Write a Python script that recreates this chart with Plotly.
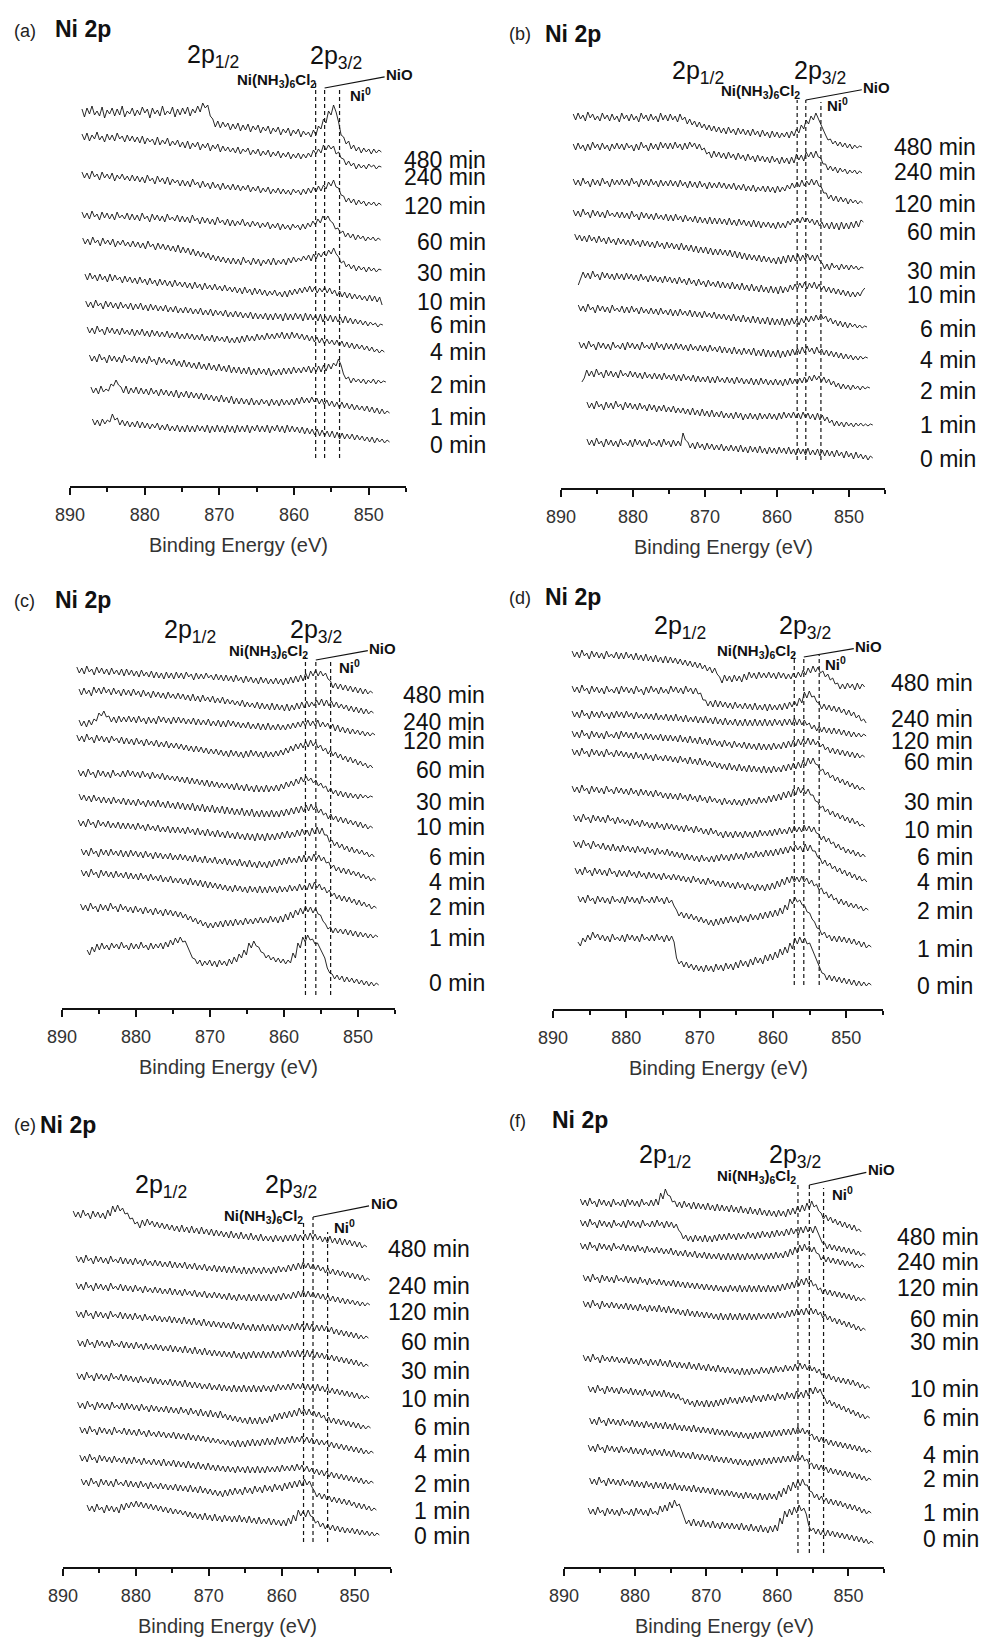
import numpy as np
import plotly.graph_objects as go

# ---------------------------------------------------------------------------
# Ni 2p XPS spectra, stacked by exposure time, six samples (a)-(f)
# Intensities are relative counts (arb. units) above each trace's stack offset
# ---------------------------------------------------------------------------
TIMES = ["480 min", "240 min", "120 min", "60 min", "30 min", "10 min",
         "6 min", "4 min", "2 min", "1 min", "0 min"]

# ----- (a) -----
a_start = [888.4, 888.4, 888.4, 888.4, 888.3, 888.0, 887.9, 887.7, 887.4, 887.2, 887.0]
a_end = [848.3, 848.3, 848.3, 848.4, 848.3, 848.2, 848.1, 847.9, 847.7, 847.2, 847.2]
a_offset = [334, 319, 281, 246, 216, 179, 161, 134, 104, 73, 44]
a_refs = [857.1, 855.9, 853.9]
a_spectra = [
    [43,35,44,38,46,37,41,36,45,34,42,38,44,36,43,37,46,35,41,38, 44,36,42,37,45,39,43,34,44,38,42,36,46,37,41,38,45,35,43,37,
     44,38,45,36,43,39,46,40,49,44,47,36,33,25,31,24,30,25,29,22, 28,23,29,21,27,22,28,20,26,22,27,19,25,21,26,18,24,20,25,17,
     23,19,24,16,22,18,23,15,21,17,20,15,22,17,26,23,33,29,41,37, 47,40,30,17,15,8,11,3,7,1,5,-1,4,0,3,-2,3,-1,2,0],
    [33,27,34,26,32,28,35,27,31,25,33,27,32,26,34,28,31,25,32,26, 31,25,30,24,31,23,29,25,28,22,30,22,27,23,29,21,26,22,27,20,
     25,19,26,18,24,20,25,17,23,19,24,16,22,18,23,15,21,16,20,15, 19,14,20,13,18,15,19,12,17,13,18,11,16,12,17,10,15,11,16,9,
     14,10,15,8,13,9,14,8,13,9,14,10,17,13,18,14,22,17,22,18, 21,13,15,9,8,2,6,1,4,-2,3,-1,2,-2,3,0,2,-2,1,0],
    [33,27,32,26,34,28,31,25,33,27,31,26,32,24,30,26,31,25,29,24, 30,24,29,23,28,22,30,24,27,21,29,23,27,21,28,20,26,22,25,19,
     25,19,24,18,26,20,23,17,24,18,22,16,23,17,21,15,22,16,20,15, 21,15,20,14,19,15,20,13,18,14,19,12,17,13,18,11,16,12,17,11,
     16,11,15,10,16,12,15,10,16,11,17,12,18,13,19,14,20,16,23,19, 25,18,17,10,9,3,7,2,6,0,5,1,4,-1,3,0,3,-1,2,0],
    [28,22,27,21,29,23,26,20,28,22,27,21,26,20,28,22,25,21,27,20, 26,20,25,19,27,21,24,18,26,20,25,19,24,18,26,20,23,19,25,18,
     24,18,23,17,25,19,22,16,23,17,22,16,21,15,23,17,20,15,21,14, 20,14,19,15,21,14,18,13,19,14,18,12,17,13,18,11,16,12,17,10,
     16,11,15,10,16,12,15,10,16,11,17,13,19,15,21,17,24,20,24,19, 17,11,12,7,9,3,7,2,6,0,5,1,4,-1,3,0,3,-1,2,0],
    [32,26,31,25,33,27,30,24,32,26,30,25,31,23,29,25,30,24,28,23, 29,23,28,22,27,21,29,23,26,20,27,21,26,20,25,19,24,18,25,17,
     23,17,22,15,21,14,19,13,18,12,17,10,15,9,14,8,13,7,12,6, 12,6,11,5,13,7,10,5,12,6,11,4,10,6,11,5,12,5,10,6,
     11,5,12,7,13,8,12,9,14,10,15,9,16,11,17,13,18,14,20,16, 22,16,13,7,9,3,6,1,5,-1,4,0,3,-2,3,-1,2,-2,1,0],
    [33,27,34,28,32,26,33,27,31,25,33,26,32,27,30,24,31,25,30,24, 29,23,30,24,28,22,29,23,27,21,28,22,27,21,26,20,27,21,25,20,
     25,19,24,18,25,19,23,17,24,18,22,17,23,17,21,16,22,16,20,15, 20,14,19,13,20,14,18,12,19,13,18,12,17,11,16,12,17,11,15,10,
     16,10,17,12,18,13,19,14,20,15,21,15,20,14,19,15,20,14,19,13, 17,11,16,10,15,9,14,8,13,8,12,7,11,6,12,6,11,5,10,2],
    [24,18,23,17,25,19,22,16,24,18,23,17,22,16,23,17,21,16,22,15, 21,16,22,15,20,14,21,15,20,14,19,14,20,13,18,13,19,12,17,12,
     18,12,17,11,16,11,17,10,15,10,16,9,15,10,14,9,15,8,13,8, 14,8,13,7,12,7,13,6,12,6,11,6,12,5,11,5,12,6,11,4,
     12,5,11,5,12,6,11,4,12,5,11,5,10,4,11,3,9,4,10,3, 9,3,8,2,9,2,7,1,6,1,5,0,4,-1,3,0,2,-2,1,0],
    [25,19,24,18,26,20,23,17,25,19,24,18,23,17,24,18,22,17,23,16, 22,17,23,16,21,15,22,16,21,15,20,15,21,14,19,14,20,13,18,13,
     19,13,18,12,17,12,18,11,16,11,17,10,16,11,15,10,16,9,14,9, 15,9,16,10,17,11,16,11,18,12,17,12,19,13,18,13,19,14,20,13,
     19,13,20,14,19,13,18,12,17,11,16,10,15,9,14,8,13,8,12,7, 12,6,11,5,10,4,9,3,8,3,7,2,6,1,5,0,3,-1,2,0],
    [27,21,26,20,28,22,25,19,27,21,26,20,25,19,27,21,24,20,26,19, 25,19,24,18,26,20,23,17,25,19,24,18,22,17,23,16,21,15,22,15,
     20,14,19,13,20,13,18,12,19,12,17,11,18,11,16,10,17,9,15,9, 15,8,14,8,15,7,13,7,14,8,13,7,14,6,12,7,13,7,14,8,
     14,8,15,9,14,9,15,10,16,9,15,10,16,10,17,11,18,13,19,16, 23,17,8,3,5,-1,4,0,3,-1,3,-2,2,-1,3,-2,2,-1,1,0],
    [26,20,25,19,27,21,24,22,29,27,33,28,26,20,27,19,25,20,26,19, 25,19,24,18,25,19,23,17,24,18,23,17,22,16,23,15,21,16,22,15,
     21,15,20,14,20,13,19,13,18,12,17,11,18,11,16,10,17,9,15,9, 15,9,14,8,15,8,13,8,14,9,13,7,14,8,13,7,14,8,13,8,
     14,8,15,9,16,10,15,10,16,11,15,9,14,8,13,7,12,6,11,5, 11,5,10,4,9,3,8,3,7,2,7,1,6,0,5,-1,4,-1,2,0],
    [23,17,22,16,23,18,22,20,28,22,24,17,22,16,21,15,20,15,21,14, 20,14,19,13,18,14,19,12,17,12,18,11,16,11,17,10,16,10,17,10,
     16,10,17,11,16,10,17,9,16,10,17,10,16,9,17,10,16,9,17,10, 16,10,17,9,16,11,17,10,16,10,17,9,16,11,17,10,16,9,17,10,
     16,10,15,9,15,8,14,8,13,7,13,6,12,6,11,5,11,4,10,3, 9,3,8,3,8,2,7,2,6,1,5,0,5,-1,4,0,3,-1,2,0],
]

# ----- (b) -----
b_start = [888.3, 888.3, 888.3, 888.3, 888.1, 887.6, 887.6, 887.5, 887.1, 886.4, 886.4]
b_end = [848.2, 848.2, 848.1, 848.0, 848.0, 847.8, 847.5, 847.4, 847.1, 846.7, 846.7]
b_offset = [341, 315, 285, 263, 220, 193, 161, 130, 100, 63, 30]
b_refs = [857.2, 856.0, 853.9]
b_spectra = [
    [33,27,34,28,32,26,35,29,33,27,31,26,34,28,32,26,33,27,31,25, 34,28,32,26,33,27,31,25,34,28,32,26,33,27,31,25,34,27,32,26,
     33,27,31,25,33,27,30,23,28,22,26,20,25,19,23,17,22,16,21,15, 20,14,19,13,20,14,18,12,19,13,18,12,17,11,18,12,16,10,17,11,
     15,9,16,10,15,9,14,10,15,9,16,11,18,14,22,18,27,23,31,27, 34,28,23,17,12,7,8,3,6,1,5,0,4,-1,3,-2,2,-1,1,0],
    [29,23,30,24,28,22,29,23,31,25,29,23,30,24,28,22,29,24,30,24, 29,23,30,25,28,22,29,23,31,25,28,22,30,24,29,23,31,25,30,24,
     30,24,31,25,29,23,30,24,31,26,30,24,29,23,25,19,21,15,22,16, 21,15,20,14,21,15,19,13,20,14,18,12,19,13,17,11,18,12,17,11,
     16,10,17,11,15,9,16,10,15,9,16,10,19,13,18,12,21,16,21,15, 22,16,15,9,9,3,7,2,6,0,5,1,4,-1,3,0,3,-1,2,0],
    [24,18,23,17,25,19,22,16,24,18,23,17,25,19,22,16,24,18,23,18, 24,18,23,17,25,19,22,16,24,18,23,17,24,18,22,16,23,17,22,17,
     23,17,22,16,23,17,21,15,22,16,21,15,22,16,20,14,21,15,20,15, 21,15,20,14,19,14,20,13,18,13,19,12,17,12,18,11,16,12,17,11,
     17,11,16,10,17,11,16,12,18,14,20,15,21,16,23,17,22,18,24,18, 23,17,16,10,10,4,8,2,7,1,6,1,5,-1,4,0,3,-1,2,0],
    [15,9,14,8,16,10,13,7,15,9,14,8,13,7,15,9,12,8,13,7, 13,7,12,6,14,8,11,5,13,7,12,6,11,5,12,6,10,5,11,4,
     10,4,11,5,9,3,10,4,8,3,9,2,8,2,7,1,8,1,7,1, 7,1,6,0,7,0,5,-1,6,0,5,-1,4,-2,5,-2,4,-3,3,-2,
     3,-3,2,-4,3,-3,2,-3,4,0,6,2,7,2,8,3,7,2,6,0, 5,-1,3,-3,2,-4,3,-4,2,-5,3,-4,2,-4,3,-3,4,-2,5,3],
    [34,28,33,27,32,26,33,27,31,25,32,26,30,24,31,25,29,23,30,24, 29,23,28,22,29,23,27,21,28,22,27,21,26,20,27,21,25,19,26,20,
     25,19,24,18,25,18,23,17,23,16,22,15,21,15,21,14,20,13,19,13, 19,13,18,12,18,11,17,10,16,9,15,8,14,8,13,7,13,6,12,6,
     11,5,10,4,11,4,12,5,13,6,13,7,14,7,13,8,14,8,13,7, 13,7,5,-1,4,-2,5,0,3,-2,4,-1,3,-2,3,-1,2,-2,1,0],
    [10,16,23,17,22,16,24,18,21,15,23,17,22,16,21,15,22,16,21,15, 22,16,21,15,20,14,21,15,19,13,20,14,19,13,18,12,19,13,18,12,
     17,11,18,12,16,10,17,11,15,9,16,10,14,8,15,9,13,8,14,7, 13,7,12,6,13,6,11,5,12,5,10,4,11,4,9,3,10,3,8,2,
     9,2,8,1,9,2,8,3,10,5,11,6,12,7,13,6,12,7,13,6, 11,5,9,3,8,2,7,1,6,0,5,-1,4,-2,3,-2,3,-1,4,7],
    [22,16,21,15,23,17,20,14,22,16,21,15,20,14,22,16,19,15,21,14, 20,14,21,15,19,13,20,14,18,13,19,13,18,12,19,13,17,12,18,11,
     17,11,18,12,16,11,17,10,16,10,15,9,16,10,14,9,15,8,13,8, 13,7,12,6,13,6,11,5,12,5,10,4,11,4,10,3,9,3,10,2,
     9,2,8,2,9,1,8,2,9,3,8,2,9,4,10,5,11,6,12,7, 13,8,11,5,9,3,7,1,6,0,5,-1,4,0,3,-1,2,-1,1,0],
    [16,10,15,9,17,11,14,8,16,10,15,9,14,8,16,10,13,9,15,8, 16,10,15,9,14,8,16,10,13,9,15,8,16,10,14,8,15,9,14,8,
     15,9,14,8,13,7,14,8,12,7,13,7,12,6,13,7,11,6,12,5, 11,5,10,4,11,4,9,3,10,4,9,3,10,2,8,2,9,1,8,1,
     7,1,8,0,7,1,8,2,9,3,10,4,11,5,12,6,10,4,11,5, 9,3,8,2,7,1,6,0,5,-1,4,-1,3,-2,2,-2,2,-1,1,0],
    [6,10,18,12,17,11,19,13,16,10,18,12,17,11,16,10,18,12,15,11, 17,11,16,10,15,9,16,10,14,9,15,9,14,8,15,9,13,8,14,7,
     13,7,14,8,12,7,13,6,12,6,11,6,12,5,11,5,12,6,10,5, 11,5,10,4,11,5,10,4,9,4,10,3,9,3,10,4,9,3,8,3,
     9,3,8,2,9,3,10,4,9,4,10,5,11,6,12,7,13,8,12,6, 11,5,9,3,7,1,5,-1,4,-1,3,-2,3,-1,2,-2,2,-1,1,0],
    [23,17,22,16,24,18,21,15,23,17,22,16,24,18,21,15,23,17,22,16, 21,15,22,16,20,14,21,15,20,13,19,14,20,13,18,13,19,12,17,12,
     17,11,16,10,17,10,15,9,16,9,14,8,15,8,13,8,14,7,12,7, 12,6,13,7,12,5,11,6,12,6,11,5,12,6,11,6,12,6,11,5,
     12,6,13,7,12,7,13,7,12,6,13,7,12,6,11,5,12,5,10,4, 8,2,5,-1,4,-1,3,-2,3,-1,2,-2,2,-1,2,-1,1,-1,1,0],
    [19,13,18,12,20,14,17,11,19,13,18,12,17,11,19,13,16,12,18,11, 19,13,18,12,17,11,19,13,16,12,18,11,19,13,17,11,18,12,17,12,
     25,18,16,10,15,9,16,10,14,8,15,9,14,8,13,8,14,7,12,7, 13,7,12,6,13,6,11,5,12,6,11,5,12,5,10,4,11,5,10,4,
     11,5,10,4,11,4,9,3,10,4,9,3,10,3,8,3,9,2,8,2, 8,2,7,1,8,2,6,0,7,1,5,-1,6,0,4,-1,3,-2,2,0],
]

# ----- (c) -----
c_start = [888.0, 887.7, 887.7, 888.0, 887.8, 887.7, 887.8, 887.4, 887.4, 887.5, 886.6]
c_end = [848.0, 847.9, 847.7, 848.0, 848.0, 848.0, 847.8, 847.6, 847.5, 847.3, 847.2]
c_offset = [315, 295, 273, 240, 211, 180, 151, 128, 100, 71, 23]
c_refs = [857.1, 855.7, 853.7]
c_spectra = [
    [26,20,25,19,27,21,24,18,26,20,25,19,24,18,25,19,23,18,24,17, 24,18,23,17,22,16,23,17,21,16,22,15,21,15,20,14,21,15,20,14,
     21,15,20,14,21,16,19,13,20,14,19,14,20,15,18,13,19,13,18,12, 18,12,17,11,18,12,16,10,17,11,16,10,15,9,16,10,15,9,14,9,
     15,9,14,8,15,9,16,10,17,11,18,12,20,14,22,17,23,17,22,17, 20,14,12,5,10,4,9,3,8,2,7,1,6,0,5,-1,4,-1,2,0],
    [24,18,25,19,23,17,26,20,25,19,26,20,24,18,25,19,23,17,24,18, 23,17,24,18,22,16,23,17,21,15,22,16,21,15,20,14,21,15,19,14,
     20,14,19,13,18,12,19,12,17,11,18,12,16,11,17,10,15,10,16,9, 14,9,13,8,12,7,13,6,11,6,10,5,11,4,10,4,9,3,10,3,
     9,3,8,2,9,2,8,3,10,4,11,5,12,6,11,7,13,8,14,7, 13,7,12,6,11,5,9,4,8,2,7,1,6,0,5,-1,4,-1,2,0],
    [15,9,14,8,15,10,16,14,22,19,24,18,19,13,18,12,19,13,18,13, 19,13,18,12,19,13,17,11,18,12,17,11,19,13,18,12,17,11,18,12,
     18,12,17,11,16,11,17,10,16,10,15,10,16,9,14,9,15,8,14,8, 15,9,14,8,13,7,12,7,13,6,11,6,12,5,11,5,12,5,10,5,
     11,5,10,5,11,6,12,7,13,8,14,9,15,9,14,9,15,8,13,8, 12,6,11,4,10,3,8,2,7,1,6,1,5,0,4,-1,3,-1,2,0],
    [33,27,32,26,34,28,31,25,33,27,32,26,31,25,32,27,30,25,31,24, 30,24,29,23,30,24,28,22,29,23,27,22,28,21,26,21,27,20,25,20,
     25,19,24,18,23,17,22,16,22,16,21,15,20,14,19,14,19,13,18,12, 17,11,18,12,17,11,16,10,17,11,18,12,17,11,16,10,17,11,16,11,
     17,12,18,13,20,15,22,17,24,19,25,20,27,21,28,22,26,20,23,17, 20,14,18,12,16,10,14,8,12,6,11,5,9,3,7,2,5,0,3,0],
    [27,21,26,20,28,22,25,19,27,21,26,20,25,19,27,21,24,20,26,20, 27,21,26,20,25,19,26,20,24,18,25,19,23,18,24,17,22,17,21,16,
     21,15,20,14,20,13,19,13,18,12,17,11,17,10,16,10,15,9,14,9, 14,8,13,7,14,7,12,6,13,6,11,5,12,5,11,5,12,5,11,6,
     12,6,13,8,15,10,16,11,18,13,20,15,21,16,19,14,17,11,14,9, 11,5,9,3,7,1,6,0,5,-1,4,-1,3,-2,3,-1,2,-1,1,0],
    [34,28,33,27,32,26,33,27,31,25,31,25,30,24,31,25,29,24,30,23, 29,23,28,22,29,23,27,21,28,22,27,21,28,21,26,20,27,20,25,19,
     26,19,25,18,24,18,25,17,23,17,24,16,22,16,23,15,21,15,22,14, 21,14,20,13,19,13,20,12,18,12,19,11,17,11,18,11,17,11,18,11,
     17,11,18,12,19,13,20,14,21,15,22,16,23,17,24,18,22,15,19,13, 15,9,14,8,12,6,11,5,10,4,8,3,7,1,6,0,4,-1,2,0],
    [37,31,36,30,38,32,35,29,37,31,35,30,36,29,34,29,35,28,34,28, 34,28,33,27,34,28,32,26,33,27,31,26,32,25,30,25,31,24,30,24,
     30,24,29,23,30,24,28,22,29,22,27,21,28,21,26,20,27,20,25,19, 26,19,24,18,25,18,23,17,24,17,23,16,24,17,23,16,24,17,23,17,
     24,18,25,19,26,19,25,20,27,21,28,22,27,21,29,23,30,23,29,22, 22,15,17,11,15,9,13,7,11,5,10,4,8,3,7,2,5,0,3,0],
    [31,25,30,24,32,26,29,23,31,25,30,24,31,25,29,24,30,23,29,23, 30,24,29,23,28,22,29,23,27,21,28,22,27,21,26,21,27,20,25,20,
     26,20,25,19,24,18,25,18,23,17,24,17,22,17,23,16,21,16,22,15, 21,15,20,14,21,14,19,13,20,13,18,12,19,13,18,12,19,13,20,14,
     21,15,22,16,23,17,22,17,24,18,25,18,24,19,26,20,25,19,23,17, 18,12,15,9,13,7,12,6,11,5,9,4,8,2,6,1,4,-1,2,0],
    [38,32,37,31,39,33,36,30,38,32,37,31,36,30,37,31,35,30,36,29, 35,29,34,28,35,29,33,27,34,28,32,27,33,26,31,26,32,25,30,25,
     30,24,29,23,30,23,28,22,28,21,27,20,26,20,25,19,24,18,23,17, 22,16,23,17,22,16,21,15,22,16,21,15,22,15,21,15,22,16,21,15,
     22,16,21,16,23,17,22,17,24,18,23,18,25,19,26,20,24,18,21,15, 18,12,15,9,13,7,12,6,11,5,9,3,8,2,6,1,4,-1,2,0],
    [33,27,32,26,34,28,31,25,33,27,32,26,34,28,31,25,33,27,31,25, 30,24,31,25,29,23,30,24,28,22,29,23,27,21,28,22,27,21,26,20,
     25,19,23,17,21,15,19,13,17,11,15,9,14,9,15,10,16,10,17,11, 17,11,18,12,17,12,19,13,18,13,19,14,20,14,19,14,21,15,20,14,
     21,15,23,17,25,19,27,22,29,23,31,25,30,24,29,23,22,16,13,8, 10,4,9,4,8,3,8,2,7,1,6,0,5,0,4,-1,3,-1,2,0],
    [35,30,38,33,41,35,42,36,40,35,42,37,41,36,43,37,40,35,42,36, 41,36,43,37,40,35,42,36,41,37,42,36,43,38,45,40,47,42,48,43,
     44,38,32,27,26,21,25,19,24,20,25,19,24,18,25,20,24,19,26,21, 28,23,31,27,35,30,42,37,44,39,38,33,32,27,30,25,28,23,27,22,
     26,21,25,22,32,27,42,37,48,43,50,45,46,41,42,37,32,27,17,12, 11,6,10,5,9,3,8,3,7,2,6,1,5,0,4,-1,3,-1,2,0],
]

# ----- (d) -----
d_start = [887.4, 887.4, 887.4, 887.4, 887.4, 887.4, 887.2, 887.2, 887.0, 886.6, 886.6]
d_end = [847.5, 847.3, 847.3, 847.5, 847.5, 847.5, 847.4, 847.2, 847.0, 846.6, 846.6]
d_offset = [322, 286, 273, 252, 219, 182, 152, 127, 99, 62, 24]
d_refs = [857.1, 855.8, 853.7]
d_spectra = [
    [36,30,35,29,37,31,34,28,36,30,35,29,34,28,36,30,33,29,35,28, 34,28,35,29,33,27,34,27,32,26,33,26,31,25,32,25,30,24,31,24,
     30,24,29,23,28,22,27,21,26,20,25,19,24,18,22,16,20,14,19,13, 10,4,12,6,11,5,12,6,11,5,13,7,15,9,14,8,15,9,14,9,
     15,9,14,8,15,9,14,8,13,8,14,9,15,10,17,12,19,14,21,15, 20,14,16,10,13,7,9,3,4,-2,3,-2,4,-1,3,-3,4,-2,3,0],
    [37,31,36,30,38,32,35,29,37,31,36,30,35,29,37,31,34,30,36,29, 37,31,36,30,35,29,37,31,34,28,36,30,37,31,35,29,36,30,34,29,
     37,31,36,30,35,29,37,31,35,29,35,29,30,23,23,17,22,16,23,16, 22,16,21,15,20,14,21,15,19,14,20,14,19,13,20,13,18,13,19,12,
     19,13,18,13,19,13,20,14,21,16,22,17,25,20,31,25,32,26,27,21, 20,14,19,13,18,12,17,11,16,10,14,8,13,7,11,5,8,2,4,0],
    [25,19,24,18,26,20,23,17,25,19,24,18,25,19,23,17,24,18,25,19, 24,18,25,19,23,17,24,18,22,17,23,17,22,16,23,16,21,16,22,15,
     21,15,22,15,20,14,21,14,19,14,20,13,19,13,20,13,18,12,19,12, 17,11,18,11,16,11,17,10,16,10,17,10,16,10,17,10,16,10,17,10,
     16,10,17,11,16,10,17,11,17,11,18,11,17,11,16,11,13,7,11,5, 10,4,9,3,8,2,8,2,7,1,6,0,5,-1,4,-1,3,-1,2,0],
    [26,20,25,19,27,21,24,18,26,20,25,19,24,18,26,20,23,19,25,18, 26,20,25,19,24,18,25,19,23,17,24,18,23,17,22,17,23,16,22,16,
     22,16,21,15,22,15,20,14,21,14,19,13,20,13,18,12,19,12,17,11, 16,10,17,11,15,9,16,10,14,9,15,8,14,8,13,7,14,7,13,7,
     13,7,14,8,13,8,15,9,16,10,17,11,18,12,18,13,19,12,18,12, 16,10,13,7,10,4,9,3,8,2,7,1,6,0,5,-1,4,-1,2,0],
    [41,35,40,34,42,36,39,33,41,35,40,34,39,33,41,35,38,33,40,34, 39,33,38,32,37,31,38,32,36,30,37,31,35,29,36,30,34,29,35,29,
     34,28,33,27,34,28,32,26,33,26,31,25,32,25,30,24,29,23,28,22, 27,21,26,20,27,20,25,19,26,19,24,18,25,18,24,18,23,17,24,17,
     23,17,24,18,23,18,25,19,26,20,27,21,28,22,30,24,32,26,32,26, 25,19,21,15,18,12,15,9,13,7,11,5,9,3,7,1,5,0,3,0],
    [41,35,40,34,42,36,39,33,41,35,40,34,39,33,41,35,38,33,40,34, 39,33,38,32,39,33,37,31,38,32,37,31,36,30,37,31,35,29,34,28,
     34,28,33,27,34,28,32,26,33,27,31,25,32,26,30,24,31,25,29,24, 28,22,29,23,27,22,28,22,27,21,28,22,29,23,28,23,30,24,29,24,
     31,25,32,26,33,27,35,29,36,30,38,32,40,34,39,33,38,32,32,26, 25,19,21,15,18,12,16,10,14,8,12,6,10,4,9,3,6,1,3,0],
    [42,36,41,35,43,37,40,34,42,36,41,35,40,34,42,36,39,33,40,34, 38,33,37,31,38,32,36,30,37,31,35,29,34,28,35,29,33,27,34,28,
     33,27,32,26,31,25,32,26,30,24,31,25,29,23,28,22,29,23,27,21, 25,19,26,20,25,19,26,20,25,19,26,20,25,19,26,20,27,21,26,21,
     27,21,28,22,29,23,28,23,30,24,31,25,30,25,32,26,31,25,30,24, 23,17,21,15,19,13,15,9,13,7,10,4,8,3,7,1,5,0,3,0],
    [41,35,40,34,42,36,39,33,41,35,38,33,39,32,37,31,38,31,36,30, 37,31,36,30,35,29,36,30,34,28,35,29,33,27,34,28,32,27,33,26,
     31,25,30,24,29,22,28,22,27,21,26,20,27,21,25,20,26,20,27,21, 28,22,27,21,28,22,29,23,28,22,30,24,29,24,31,25,30,25,32,26,
     32,26,33,27,34,28,35,29,36,31,37,32,36,30,38,31,37,31,31,25, 24,18,22,16,19,13,16,10,14,8,12,6,10,4,8,2,6,1,3,0],
    [42,36,41,35,43,37,40,34,42,36,41,35,40,34,42,36,39,33,40,34, 39,33,40,34,38,32,39,33,37,31,38,32,37,31,36,30,37,31,35,30,
     36,30,35,29,34,28,33,27,34,28,32,26,31,25,32,26,30,24,29,23, 29,23,28,22,27,21,28,22,26,20,27,21,25,19,26,20,25,19,26,20,
     27,21,29,23,31,25,33,27,34,28,33,28,34,28,32,26,30,24,26,20, 22,16,18,12,16,10,12,6,11,5,9,3,7,2,6,1,4,-1,2,0],
    [51,45,50,44,52,46,49,43,51,45,50,44,49,43,51,45,48,44,50,43, 51,45,50,44,49,43,51,45,48,44,50,44,51,45,49,43,50,44,47,41,
     37,31,35,29,34,28,33,27,31,25,30,24,28,22,27,21,28,22,29,23, 30,24,31,25,30,24,32,26,31,25,33,27,32,27,34,28,35,29,36,30,
     37,31,39,33,42,37,48,43,50,45,47,42,41,35,34,28,25,19,18,12, 15,9,12,6,11,5,11,5,10,4,9,3,8,2,6,0,5,-1,2,0],
    [43,39,47,43,50,45,53,47,51,45,50,44,49,43,51,45,48,44,50,43, 51,45,50,44,49,43,51,45,48,44,50,44,51,45,49,43,50,44,49,43,
     27,21,24,18,23,17,21,15,20,14,19,13,20,14,19,13,21,15,20,14, 22,16,21,15,23,17,25,19,24,18,26,20,28,22,27,21,30,24,31,25,
     33,27,36,30,38,32,42,36,47,41,48,42,47,41,42,36,30,24,18,12, 11,5,10,4,9,3,8,2,7,1,6,0,5,-1,4,-1,3,-1,2,0],
]

# ----- (e) -----
e_start = [888.6, 888.2, 888.2, 888.2, 888.0, 888.1, 888.0, 887.7, 887.7, 887.5, 886.7]
e_end = [848.3, 847.9, 847.9, 848.1, 848.1, 848.0, 847.8, 847.4, 847.4, 847.0, 846.6]
e_offset = [320, 287, 262, 229, 201, 169, 139, 114, 84, 57, 32]
e_refs = [857.0, 855.7, 853.7]
e_spectra = [
    [36,30,35,29,37,31,34,28,36,30,35,29,34,28,37,31,41,35,42,36, 39,33,34,28,29,23,25,19,27,21,28,22,26,20,25,19,24,18,23,17,
     22,16,21,15,22,15,20,14,21,14,19,13,20,13,18,12,18,11,17,11, 16,10,15,9,16,9,14,8,15,8,13,7,14,7,12,6,13,6,11,6,
     11,5,12,6,11,5,12,6,12,6,13,6,12,7,13,7,14,8,13,7, 11,5,10,4,11,4,9,3,9,2,8,2,7,1,6,0,5,-1,2,0],
    [24,18,23,17,25,19,22,16,24,18,23,17,22,16,24,18,21,17,23,16, 22,16,21,15,22,16,20,14,21,15,19,14,20,14,19,13,18,13,19,12,
     18,12,17,12,18,11,16,11,17,10,15,10,16,9,14,9,15,8,14,8, 14,7,13,7,14,7,12,6,13,6,12,6,13,7,12,6,13,7,12,6,
     13,7,14,8,13,8,15,9,16,10,17,11,18,12,17,11,16,10,15,9, 13,7,12,6,11,5,10,4,9,3,8,2,7,1,6,0,5,-1,2,0],
    [22,16,21,15,23,17,20,14,22,16,21,15,20,14,22,16,19,15,21,14, 20,14,19,13,20,14,18,12,19,13,17,12,18,12,17,11,16,11,17,10,
     16,10,15,9,16,10,14,9,15,8,13,8,14,7,12,7,13,7,12,6, 11,5,12,5,10,4,11,5,10,4,11,4,10,4,11,4,10,4,11,4,
     10,4,11,5,12,6,11,6,13,7,14,8,15,8,14,8,13,7,12,6, 11,5,10,4,9,3,8,2,7,1,6,1,5,0,4,-1,3,-1,2,0],
    [27,21,26,20,28,22,25,19,27,21,26,20,25,19,27,21,24,20,26,19, 25,19,24,18,25,19,23,17,24,18,22,17,23,17,22,16,21,16,22,15,
     21,15,20,14,21,14,19,13,20,13,18,12,19,12,17,11,17,11,16,10, 16,10,15,9,16,9,14,8,15,8,13,7,14,7,13,7,14,7,13,7,
     14,7,13,7,14,8,13,7,14,8,15,8,14,8,15,8,14,7,13,7, 13,7,12,6,11,4,9,3,8,2,7,1,6,0,5,-1,3,-1,2,0],
    [26,20,25,19,27,21,24,18,26,20,25,19,24,18,26,20,23,19,25,18, 24,18,23,17,24,18,22,16,23,17,21,16,22,16,21,15,20,15,21,14,
     20,14,19,13,20,13,18,12,19,12,17,11,18,11,16,10,16,10,15,9, 15,9,14,8,15,8,13,7,14,7,14,8,15,8,14,8,15,8,14,8,
     15,8,14,8,15,9,16,9,15,9,16,9,15,9,16,9,15,8,14,8, 13,7,12,6,11,5,10,4,9,3,8,2,7,1,6,0,4,-1,2,0],
    [25,19,24,18,26,20,23,17,25,19,24,18,23,17,25,19,22,18,24,17, 23,17,22,16,21,15,22,16,20,15,21,14,20,14,19,13,18,13,19,12,
     18,12,17,11,18,11,16,10,16,10,15,9,14,9,15,8,13,8,14,7, 13,7,12,6,13,6,12,6,13,6,12,6,13,6,12,6,13,7,12,6,
     13,7,14,8,13,8,14,8,15,9,14,9,15,8,14,8,13,7,14,7, 12,6,11,5,10,4,9,3,8,2,7,1,6,0,5,-1,3,-1,2,0],
    [26,20,25,19,27,21,24,18,26,20,25,19,24,18,26,20,23,19,25,18, 25,19,24,18,23,17,24,18,22,16,23,17,22,16,21,16,22,15,21,15,
     20,14,21,15,19,13,20,14,18,12,19,12,17,11,18,11,16,10,17,10, 14,8,13,7,12,6,11,5,10,4,11,4,10,4,11,4,10,5,12,6,
     14,8,15,9,16,10,17,11,18,12,20,14,19,13,19,13,17,11,16,10, 13,7,11,5,10,4,9,3,8,2,7,1,6,0,5,-1,3,-1,2,0],
    [26,20,25,19,27,21,24,18,26,20,25,19,24,18,26,20,23,19,25,18, 24,18,23,17,24,18,22,16,23,17,21,16,22,16,21,15,20,15,21,14,
     20,14,19,13,20,13,18,12,18,12,17,11,16,10,15,10,14,9,13,8, 13,7,12,6,13,6,12,6,13,7,14,7,13,7,14,8,15,8,14,8,
     16,9,15,9,16,10,17,10,16,11,17,11,16,10,15,9,14,8,13,8, 12,6,11,5,10,4,9,3,8,2,7,1,6,0,5,-1,3,-1,2,0],
    [28,22,27,21,29,23,26,20,28,22,27,21,26,20,27,21,25,20,26,19, 25,19,26,20,24,18,25,19,23,18,24,18,23,17,24,17,22,17,23,16,
     22,16,21,15,22,15,20,14,21,14,19,13,20,13,18,12,18,12,17,11, 17,11,16,10,17,11,16,10,17,10,16,10,17,10,16,10,17,11,16,11,
     17,11,18,12,17,12,18,12,19,13,18,12,17,11,15,9,14,8,13,7, 12,6,11,5,10,4,9,3,8,2,7,1,6,0,5,-1,3,-1,2,0],
    [31,25,30,24,32,26,29,23,31,25,30,24,29,23,31,25,28,24,30,23, 29,23,28,22,29,23,27,21,28,22,26,21,27,21,26,20,25,20,26,19,
     25,19,24,18,25,18,23,17,24,17,22,16,21,15,20,14,19,13,20,14, 21,15,22,16,21,15,23,17,22,16,24,18,23,17,25,19,24,18,26,20,
     25,19,27,21,28,22,29,23,30,24,31,25,29,23,19,13,17,11,16,10, 14,8,13,7,12,6,11,5,10,4,8,2,7,1,6,0,4,-1,2,0],
    [30,24,29,23,31,25,28,22,30,24,29,23,28,22,31,25,32,27,33,28, 34,28,33,27,32,26,31,25,30,24,29,23,28,22,27,21,26,21,25,20,
     24,18,23,17,22,16,21,15,22,15,20,14,21,14,19,13,20,14,19,13, 19,13,20,13,18,12,19,12,17,11,18,11,16,11,17,10,16,10,15,9,
     15,9,17,11,20,14,25,19,24,18,25,19,18,12,14,8,12,6,11,5, 10,4,9,3,8,2,7,2,7,1,6,0,5,0,4,-1,3,-1,2,0],
]

# ----- (f) -----
f_start = [887.7, 887.7, 887.7, 887.3, 887.3, 887.3, 886.6, 886.4, 886.6, 886.4, 886.6]
f_end = [848.2, 847.6, 847.8, 847.6, 847.6, 847.0, 847.0, 846.8, 846.8, 846.8, 846.5]
f_offset = [335, 312, 300, 267, 237, 179, 149, 115, 87, 54, 24]
f_refs = [857.1, 855.5, 853.5]
f_spectra = [
    [33,27,32,26,34,28,31,25,33,27,32,26,31,25,33,27,30,26,32,25, 33,27,32,26,31,25,33,27,30,26,32,26,33,27,39,33,43,37,36,30,
     31,25,30,24,31,25,29,23,30,23,29,23,28,22,29,22,27,21,28,21, 27,21,26,20,27,20,25,19,26,19,24,18,25,18,23,17,24,17,22,16,
     22,16,21,15,22,16,21,15,23,17,24,18,26,20,27,21,29,23,31,25, 27,21,19,13,17,11,15,9,13,7,11,5,10,4,8,2,7,1,3,0],
    [35,29,34,28,36,30,33,27,35,29,34,28,33,27,35,29,32,28,34,27, 35,29,34,28,33,27,35,29,32,28,34,28,35,29,33,27,34,28,33,27,
     31,25,22,16,20,14,19,13,20,14,19,13,20,13,19,13,20,14,21,15, 21,15,22,16,21,15,22,16,21,16,23,17,22,16,23,17,24,18,23,17,
     24,18,25,19,24,19,26,20,27,21,26,20,28,22,29,23,28,22,29,23, 18,12,12,6,11,5,10,4,9,3,8,2,7,1,6,0,4,-1,2,0],
    [24,18,23,17,25,19,22,16,24,18,23,17,22,16,24,18,21,17,23,16, 22,16,21,15,22,16,20,14,21,15,19,14,20,14,19,13,18,13,19,12,
     17,11,16,11,17,10,15,10,16,9,14,9,15,8,14,8,13,8,14,7, 13,7,14,7,13,7,14,7,13,7,14,8,13,7,14,8,13,7,14,8,
     14,8,15,9,14,9,16,10,18,12,20,14,22,16,23,17,21,15,20,14, 13,7,11,5,10,4,9,3,8,2,7,1,6,1,5,-1,3,-1,2,0],
    [25,19,24,18,26,20,23,17,25,19,24,18,23,17,25,19,22,18,24,17, 23,17,22,16,23,17,21,15,22,16,20,15,21,15,20,14,19,14,20,13,
     19,13,18,12,18,12,17,11,17,11,16,10,16,10,15,9,15,9,14,8, 14,8,15,9,14,8,15,8,14,8,15,8,14,8,15,8,14,8,15,8,
     14,8,15,9,16,10,17,11,18,12,20,14,21,15,22,16,20,14,16,10, 12,6,11,5,10,4,9,3,8,2,7,1,6,0,5,-1,3,-1,2,0],
    [29,23,28,22,30,24,27,21,29,23,27,22,28,22,27,21,26,21,27,20, 26,20,25,19,26,20,24,18,25,19,24,18,25,18,23,17,24,17,22,16,
     21,15,20,14,21,14,19,13,19,13,18,12,18,12,17,11,16,10,17,10, 16,10,17,10,16,10,17,10,16,10,17,10,16,10,17,11,16,11,17,11,
     17,11,18,12,17,12,19,13,20,14,21,15,21,15,22,16,22,16,21,15, 18,12,16,10,14,8,12,6,11,5,9,3,8,2,6,0,4,-1,2,0],
    [33,27,32,26,34,28,31,25,33,27,31,26,32,26,31,25,30,25,31,24, 30,24,29,23,30,24,28,22,29,23,28,22,29,22,27,21,28,21,26,20,
     26,20,25,19,26,19,24,18,25,18,23,17,24,17,22,16,23,16,21,15, 21,15,20,14,19,13,20,13,19,13,20,14,19,14,21,15,20,14,21,15,
     22,16,21,16,23,17,22,17,24,18,25,19,24,18,23,17,21,15,19,13, 15,9,14,8,12,6,11,5,10,4,9,3,8,2,6,0,4,-1,2,0],
    [32,26,31,25,33,27,30,24,32,26,31,25,30,24,31,25,29,24,30,23, 29,23,28,22,29,23,27,21,28,22,27,21,28,21,26,20,25,19,24,18,
     20,14,19,13,17,11,18,12,17,11,18,11,17,11,18,12,19,13,20,14, 21,15,20,14,21,15,22,16,21,15,23,17,22,16,23,17,24,18,23,17,
     25,19,24,18,26,20,25,19,27,21,26,20,28,22,30,24,31,25,29,23, 20,14,18,12,16,10,14,8,12,6,10,4,8,2,6,0,4,-1,2,0],
    [34,28,33,27,35,29,32,26,34,28,33,27,32,26,33,27,31,26,32,25, 31,25,30,24,31,25,29,23,30,24,29,23,30,23,28,22,29,22,27,21,
     27,21,26,20,27,20,25,19,25,19,24,18,24,17,23,17,22,16,22,16, 21,15,20,14,20,14,19,13,19,13,20,14,20,14,21,15,21,15,22,16,
     22,16,23,17,23,17,24,18,25,19,24,18,22,16,18,12,16,10,15,9, 13,7,12,6,11,5,10,4,9,3,8,2,7,1,6,0,4,-1,2,0],
    [35,29,34,28,36,30,33,27,35,29,34,28,33,27,34,28,32,27,33,26, 32,26,31,25,32,26,30,24,31,25,30,24,31,24,29,23,30,23,28,22,
     28,22,27,21,28,21,26,20,26,20,25,19,25,18,24,18,23,17,23,17, 22,16,21,15,21,15,20,14,20,14,21,15,21,15,22,16,22,16,23,17,
     23,17,24,18,24,18,25,19,26,20,25,19,21,15,17,11,16,10,15,9, 13,7,12,6,11,5,10,4,9,3,8,2,7,1,6,0,4,-1,2,0],
    [35,29,34,28,36,30,33,27,35,29,34,28,33,27,34,28,32,27,33,26, 32,26,31,25,32,26,30,24,31,25,30,24,31,24,29,23,30,23,28,22,
     28,22,27,21,28,21,26,20,26,20,25,19,25,18,24,18,23,17,23,17, 22,16,21,15,20,14,21,15,20,14,19,13,20,13,19,13,20,14,19,13,
     22,16,25,19,28,22,31,25,33,27,34,28,28,22,21,15,19,13,17,11, 15,9,14,8,13,7,12,6,10,4,9,3,8,2,6,0,4,-1,2,0],
    [35,29,34,28,36,30,33,27,35,29,34,28,33,27,35,29,32,28,34,27, 35,29,34,28,33,27,35,29,32,28,37,31,38,32,41,35,43,37,39,33,
     25,19,23,17,24,17,22,16,23,16,21,15,22,15,20,14,21,15,20,14, 20,14,19,13,20,13,18,12,19,12,17,11,18,11,16,10,17,11,18,12,
     25,19,32,26,34,28,36,30,38,32,35,29,18,12,15,9,14,8,13,7, 13,7,12,6,11,5,10,4,9,3,8,2,7,1,6,0,4,-1,2,0],
]

# ---------------------------------------------------------------------------
# Page geometry (pixels) for each panel
# ---------------------------------------------------------------------------
W, H = 983, 1639
PLOT_H = 440  # height of every panel's plotting area in px (1 intensity unit = 1 px)
FONT = "Liberation Sans, Arial, Helvetica, sans-serif"

GEOM = {
    "a": dict(x0=70, x1=406, axis=486, lab=488, tag=(12, 31), head=(53, 29),
              p12=(185, 52), p32=(308, 53), cl=(318, 78), ni0=(348, 95), nio=(75, -14),
              dash_lo=28, dash_hi=[403, 398, 398],
              rows=[160, 177, 206, 242, 273, 302, 325, 352, 385, 417, 445]),
    "b": dict(x0=561, x1=885, axis=488, lab=978, tag=(507, 34), head=(543, 34),
              p12=(670, 68), p32=(792, 68), cl=(802, 90), ni0=(825, 105), nio=(71, -13),
              dash_lo=28, dash_hi=[388, 388, 386],
              rows=[147, 172, 204, 232, 271, 295, 329, 360, 391, 425, 459]),
    "c": dict(x0=62, x1=395, axis=1008, lab=487, tag=(12, 601), head=(53, 600),
              p12=(162, 627), p32=(288, 627), cl=(310, 650), ni0=(337, 666), nio=(67, -12),
              dash_lo=13, dash_hi=[351, 348, 348],
              rows=[695, 722, 741, 770, 802, 827, 857, 882, 907, 938, 983]),
    "d": dict(x0=553, x1=883, axis=1009, lab=975, tag=(507, 598), head=(543, 597),
              p12=(652, 623), p32=(777, 623), cl=(798, 650), ni0=(823, 663), nio=(65, -11),
              dash_lo=24, dash_hi=[356, 352, 354],
              rows=[683, 719, 741, 762, 802, 830, 857, 882, 911, 949, 986]),
    "e": dict(x0=63, x1=391, axis=1567, lab=472, tag=(12, 1125), head=(38, 1125),
              p12=(133, 1182), p32=(263, 1182), cl=(305, 1214), ni0=(332, 1226), nio=(71, -14),
              dash_lo=25, dash_hi=[347, 350, 335],
              rows=[1249, 1286, 1312, 1342, 1371, 1399, 1427, 1454, 1484, 1511, 1536]),
    "f": dict(x0=564, x1=884, axis=1567, lab=981, tag=(507, 1121), head=(550, 1120),
              p12=(637, 1152), p32=(767, 1152), cl=(798, 1174), ni0=(830, 1193), nio=(72, -16),
              dash_lo=14, dash_hi=[382, 382, 379],
              rows=[1237, 1262, 1288, 1319, 1342, 1389, 1418, 1455, 1479, 1513, 1539]),
}

PANELS = [
    ("a", a_start, a_end, a_offset, a_spectra, a_refs),
    ("b", b_start, b_end, b_offset, b_spectra, b_refs),
    ("c", c_start, c_end, c_offset, c_spectra, c_refs),
    ("d", d_start, d_end, d_offset, d_spectra, d_refs),
    ("e", e_start, e_end, e_offset, e_spectra, e_refs),
    ("f", f_start, f_end, f_offset, f_spectra, f_refs),
]


def fx(x):
    return x / W


def fy(y):
    return 1 - y / H


fig = go.Figure()
annotations = []
layout_axes = {}

for i, (tag, starts, ends, offsets, spectra, refs) in enumerate(PANELS, start=1):
    g = GEOM[tag]
    xa = "x" if i == 1 else f"x{i}"
    ya = "y" if i == 1 else f"y{i}"

    # stacked spectra with their exposure-time labels
    for name, s, e, off, vals, row in zip(TIMES, starts, ends, offsets, spectra, g["rows"]):
        energy = np.linspace(s, e, len(vals))
        fig.add_trace(go.Scatter(
            x=energy, y=off + np.asarray(vals, dtype=float), mode="lines",
            line=dict(color="#111", width=0.9), xaxis=xa, yaxis=ya,
            hoverinfo="skip", showlegend=False))
        annotations.append(dict(
            text=name, xref="paper", yref="paper", x=fx(g["lab"]), y=fy(row),
            xanchor="right", yanchor="middle", showarrow=False,
            font=dict(family=FONT, size=23, color="#111")))

    # reference binding energies (Ni(NH3)6Cl2, NiO, Ni0)
    for j, be in enumerate(refs):
        fig.add_trace(go.Scatter(
            x=[be, be], y=[g["dash_lo"], g["dash_hi"][j]], mode="lines",
            line=dict(color="#151515", width=1.2, dash="4px,3px"),
            xaxis=xa, yaxis=ya, hoverinfo="skip", showlegend=False))

    # axes
    xkey = "xaxis" if i == 1 else f"xaxis{i}"
    ykey = "yaxis" if i == 1 else f"yaxis{i}"
    layout_axes[xkey] = dict(
        domain=[fx(g["x0"]), fx(g["x1"])], range=[890, 845], anchor=ya,
        automargin=False,
        showline=True, linecolor="#111", linewidth=1.6, mirror=False,
        showgrid=False, zeroline=False,
        tickmode="array", tickvals=[890, 880, 870, 860, 850],
        ticktext=["890", "880", "870", "860", "850"],
        ticks="outside", ticklen=7, tickwidth=1.5, tickcolor="#111",
        ticklabelstandoff=5,
        tickfont=dict(family=FONT, size=18, color="#333"),
        minor=dict(tickmode="array", tickvals=[885, 875, 865, 855, 845],
                   ticks="outside", ticklen=4, tickwidth=1.5, tickcolor="#111"),
        fixedrange=True)
    layout_axes[ykey] = dict(
        domain=[fy(g["axis"]), fy(g["axis"] - PLOT_H)], range=[0, PLOT_H],
        anchor=xa, visible=False, automargin=False, fixedrange=True)

    # axis title
    annotations.append(dict(
        text="Binding Energy (eV)", xref="paper", yref="paper",
        x=fx((g["x0"] + g["x1"]) / 2), y=fy(g["axis"] + 59),
        xanchor="center", yanchor="middle", showarrow=False,
        font=dict(family=FONT, size=20, color="#333")))

    # panel heading
    annotations.append(dict(
        text=f"({tag})", xref="paper", yref="paper", x=fx(g["tag"][0]), y=fy(g["tag"][1]),
        xanchor="left", yanchor="middle", showarrow=False,
        font=dict(family=FONT, size=18, color="#222")))
    annotations.append(dict(
        text="<b>Ni 2p</b>", xref="paper", yref="paper", x=fx(g["head"][0]), y=fy(g["head"][1]),
        xanchor="left", yanchor="middle", showarrow=False,
        font=dict(family=FONT, size=23, color="#111")))

    # spin-orbit components
    for key, txt in (("p12", "2p<sub>1/2</sub>"), ("p32", "2p<sub>3/2</sub>")):
        annotations.append(dict(
            text=txt, xref="paper", yref="paper", x=fx(g[key][0]), y=fy(g[key][1] + 4),
            xanchor="left", yanchor="middle", showarrow=False,
            font=dict(family=FONT, size=25, color="#111")))

    # component labels
    annotations.append(dict(
        text="<b>Ni(NH<sub>3</sub>)<sub>6</sub>Cl<sub>2</sub></b>", xref="paper", yref="paper",
        x=fx(g["cl"][0]), y=fy(g["cl"][1] + 2), xanchor="right", yanchor="middle",
        showarrow=False, font=dict(family=FONT, size=15, color="#111")))
    annotations.append(dict(
        text="<b>Ni<sup>0</sup></b>", xref="paper", yref="paper",
        x=fx(g["ni0"][0]), y=fy(g["ni0"][1]), xanchor="left", yanchor="middle",
        showarrow=False, font=dict(family=FONT, size=15, color="#111")))
    annotations.append(dict(
        text="<b>NiO</b>", xref=xa, yref=ya, x=refs[1], y=g["dash_hi"][1],
        ax=g["nio"][0], ay=g["nio"][1], showarrow=True, arrowhead=0,
        arrowwidth=1.2, arrowcolor="#111", standoff=0,
        font=dict(family=FONT, size=15, color="#111")))

fig.update_layout(
    width=W, height=H,
    margin=dict(l=0, r=0, t=0, b=0, pad=0, autoexpand=False),
    paper_bgcolor="white", plot_bgcolor="white", showlegend=False,
    annotations=annotations, **layout_axes)

fig.write_html("out.html")
